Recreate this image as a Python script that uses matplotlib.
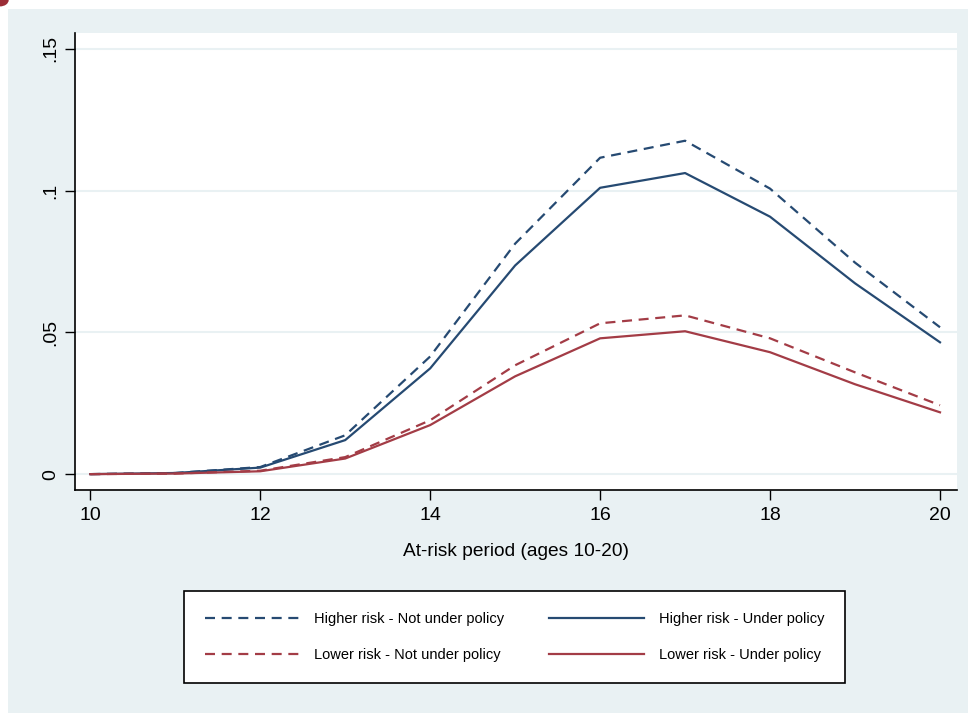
import matplotlib
matplotlib.use("Agg")
import matplotlib.pyplot as plt
from matplotlib.patches import Rectangle, Circle

# ─── Datos ────────────────────────────────────────────
edades = [10, 11, 12, 13, 14, 15, 16, 17, 18, 19, 20]
alto_sin_politica = [0.0, 0.0004, 0.0025, 0.0137, 0.0415, 0.0813, 0.1116, 0.1176, 0.1007, 0.0746, 0.0518]
alto_con_politica = [0.0, 0.0004, 0.0023, 0.0120, 0.0373, 0.0736, 0.1010, 0.1062, 0.0908, 0.0673, 0.0465]
bajo_sin_politica = [0.0, 0.0002, 0.0012, 0.0060, 0.0190, 0.0384, 0.0532, 0.0560, 0.0479, 0.0359, 0.0243]
bajo_con_politica = [0.0, 0.0002, 0.0010, 0.0055, 0.0173, 0.0345, 0.0479, 0.0504, 0.0430, 0.0317, 0.0218]

y_ticks = [0, 0.05, 0.1, 0.15]
y_labels = ["0", ".05", ".1", ".15"]
x_ticks = [10, 12, 14, 16, 18, 20]

AZUL = "#264a72"
ROJO = "#a33c46"
FONDO = "#e9f1f3"

plt.rcParams["font.family"] = ["Liberation Sans", "DejaVu Sans"]

fig = plt.figure(figsize=(9.68, 7.13), dpi=100, facecolor="white")
fig.patches.append(Rectangle((8 / 968, 0), 1, 1 - 9 / 713, transform=fig.transFigure,
                             facecolor=FONDO, edgecolor="none", zorder=-10))
fig.patches.append(Circle((0, 1), 0.009, transform=fig.transFigure,
                          facecolor="#9b2d36", edgecolor="none", zorder=-5))

ax = fig.add_axes([75 / 968, 1 - 490 / 713, (957 - 75) / 968, (490 - 33) / 713])
ax.set_facecolor("white")

dash = (0, (4.5, 3))
lw = 1.6
ax.plot(edades, alto_sin_politica, color=AZUL, lw=lw, ls=dash, label="Higher risk - Not under policy")
ax.plot(edades, alto_con_politica, color=AZUL, lw=lw, ls="-", label="Higher risk - Under policy")
ax.plot(edades, bajo_sin_politica, color=ROJO, lw=lw, ls=dash, label="Lower risk - Not under policy")
ax.plot(edades, bajo_con_politica, color=ROJO, lw=lw, ls="-", label="Lower risk - Under policy")

ax.set_xlim(9.82, 20.2)
ax.set_ylim(-0.0056, 0.1556)
ax.set_xticks(x_ticks)
ax.set_yticks(y_ticks)
ax.set_yticklabels(y_labels, rotation=90, va="center")
ax.tick_params(axis="both", length=7, width=1, labelsize=14, color="black")
ax.tick_params(axis="y", pad=4)
ax.tick_params(axis="x", pad=5)

for y in y_ticks:
    ax.axhline(y, color=FONDO, lw=1.5, zorder=0)

for lado in ["top", "right"]:
    ax.spines[lado].set_visible(False)
for lado in ["left", "bottom"]:
    ax.spines[lado].set_linewidth(1.2)

ax.set_xlabel("At-risk period (ages 10-20)", fontsize=13.8, labelpad=14)

h, l = ax.get_legend_handles_labels()
orden = [0, 2, 1, 3]
leg = fig.legend([h[i] for i in orden], [l[i] for i in orden], ncol=2,
                 loc="center", bbox_to_anchor=(514.5 / 968, 1 - 637 / 713),
                 fontsize=10.5, handlelength=6.5, handletextpad=1.0,
                 columnspacing=3.1, labelspacing=1.55, borderpad=1.45,
                 fancybox=False, framealpha=1, edgecolor="black")
leg.get_frame().set_linewidth(1.2)

fig.savefig("out.png", dpi=100, facecolor="white")
